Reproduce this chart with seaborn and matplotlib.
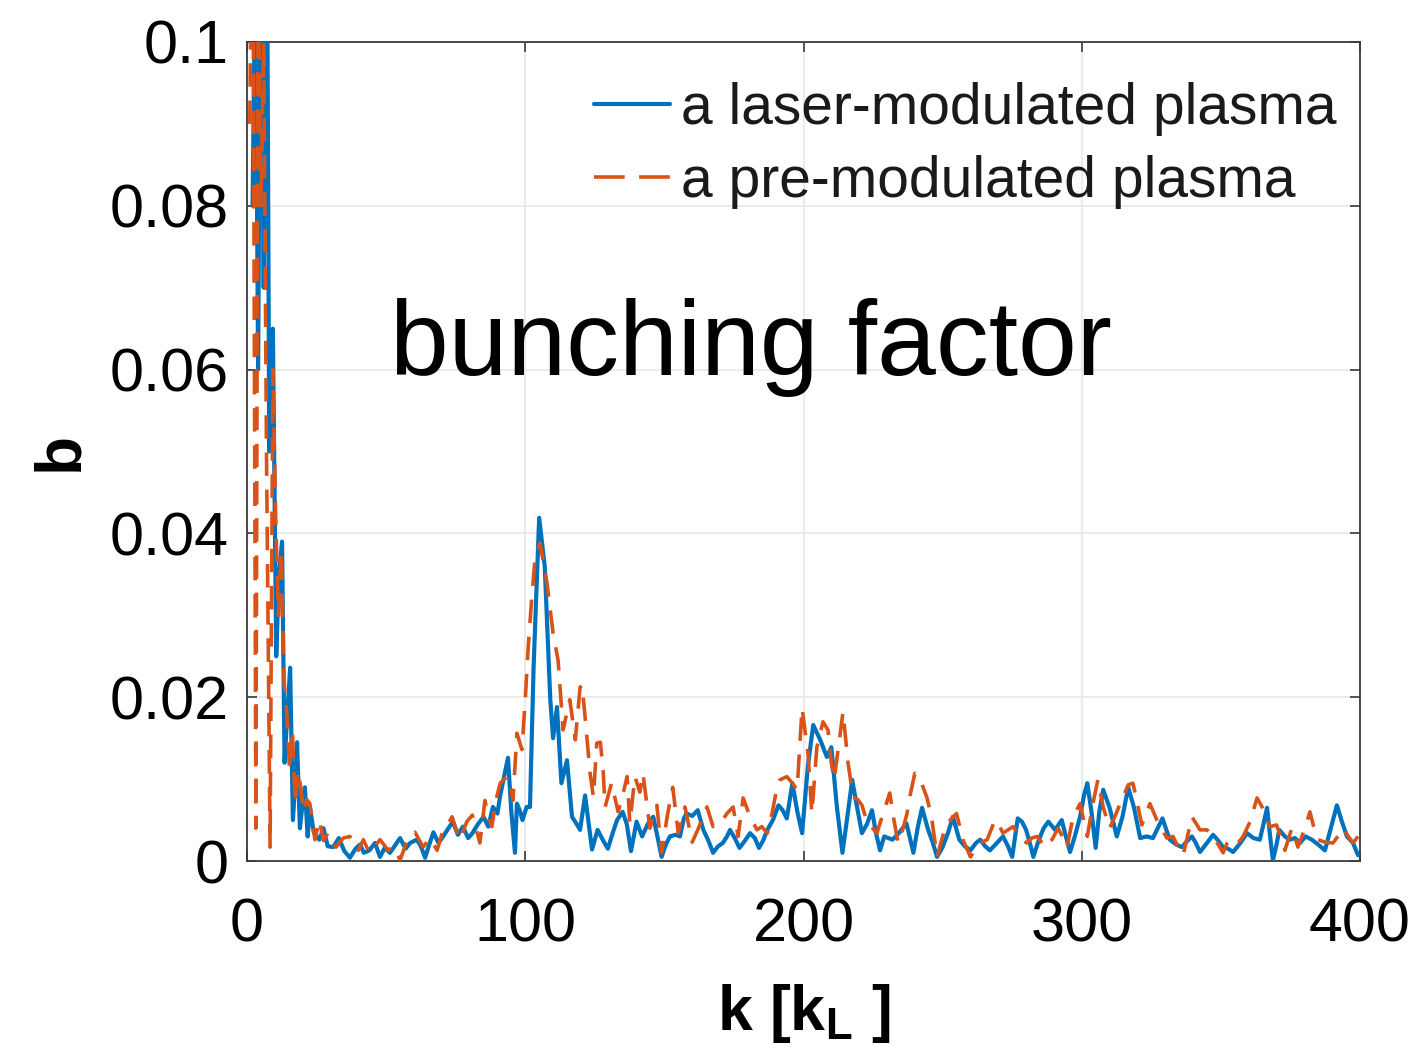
import matplotlib
matplotlib.use("Agg")
import matplotlib.pyplot as plt
import seaborn as sns
import pandas as pd

# ---------------- data ----------------
k_laser = [2, 3, 4, 5, 6, 7, 8, 9.3, 10.5, 11.5, 12.6, 13.5, 14.5, 15.5, 16.5, 17.2, 18, 19, 20, 20.8,
           21.8, 22.6, 24, 26, 27.5, 29, 31, 33, 35, 37, 39, 40.6, 42, 44, 46, 47.8, 49.5, 51.4, 53, 55,
           57, 58.6, 61, 62.5, 64, 65.5, 67, 68.8, 70.5, 72, 74, 75.8, 77.6, 79.5, 81, 83, 85, 86.7, 88.4, 90,
           91, 92.5, 93.8, 95, 96.3, 97, 98, 99, 100.5, 101.7, 103, 105, 107, 109, 110, 111.4, 113, 115, 116.8, 118.5,
           119.7, 121.5, 124, 126, 128, 129.7, 131.5, 133, 135, 136.5, 138, 140, 142, 144, 146, 147.5, 149, 150.5, 152, 154,
           155.6, 157, 158, 160, 162, 164, 165.8, 167.5, 169.3, 171, 172.5, 173.6, 175.3, 177, 179, 180.8, 182.5, 184, 185.5, 187,
           189, 191, 192.5, 194, 196, 197.8, 199.5, 201.6, 203.5, 206, 208.4, 210, 212, 214, 215.8, 217.5, 219.3, 221, 222.8, 224.6,
           226, 227.5, 229, 230.5, 232, 234.5, 237, 239.5, 241, 242.6, 244.8, 246.5, 248, 250, 252, 253.7, 256, 258, 260, 262,
           263.5, 265.3, 267, 269.5, 271.7, 273.5, 275, 277, 278.5, 280, 281.5, 282.6, 284.5, 286.3, 288, 290.4, 292.8, 294.3, 295.8, 297.5,
           299.4, 300.8, 302, 303.5, 305, 306.3, 307.7, 310, 312.6, 314.7, 316.7, 318.8, 321, 323.3, 325.6, 327.3, 329, 330.4, 331.7, 334,
           336, 337.8, 339.6, 341, 342.5, 345, 347.2, 349, 350.8, 352.6, 354.4, 357, 359.4, 361.7, 364, 365.3, 366.6, 367.7, 368.7, 370,
           371, 373, 374.8, 376.6, 378.4, 380.5, 382.7, 385, 387.4, 389.5, 391.7, 393.5, 395.3, 397.5, 399.3]
b_laser = [0.08, 0.11, 0.06, 0.12, 0.07, 0.13, 0.05, 0.065, 0.025, 0.035, 0.039, 0.012, 0.018, 0.0236, 0.005, 0.009, 0.0145, 0.004, 0.007, 0.009,
           0.003, 0.0066, 0.0035, 0.0026, 0.004, 0.0018, 0.0017, 0.0028, 0.0012, 0.0004, 0.0015, 0.002, 0.001, 0.0013, 0.0022, 0.0005, 0.0016, 0.001, 0.0018, 0.0028,
           0.0015, 0.0022, 0.0026, 0.0018, 0.0004, 0.002, 0.0035, 0.0022, 0.003, 0.0038, 0.0048, 0.0032, 0.0042, 0.0028, 0.0034, 0.0045, 0.0054, 0.0042, 0.0066, 0.0058,
           0.008, 0.0105, 0.0126, 0.006, 0.001, 0.007, 0.0062, 0.005, 0.0066, 0.0066, 0.0237, 0.0419, 0.036, 0.0197, 0.015, 0.0188, 0.0095, 0.0123, 0.0054, 0.0045,
           0.0038, 0.008, 0.0014, 0.0038, 0.0025, 0.0015, 0.0035, 0.005, 0.006, 0.0045, 0.0012, 0.0048, 0.003, 0.0045, 0.0054, 0.003, 0.0005, 0.002, 0.003, 0.0032,
           0.003, 0.0052, 0.0058, 0.0055, 0.0062, 0.0038, 0.0025, 0.001, 0.0018, 0.0022, 0.003, 0.0038, 0.0028, 0.0016, 0.0025, 0.0034, 0.0028, 0.0016, 0.0025, 0.0038,
           0.005, 0.0068, 0.0062, 0.0052, 0.0095, 0.006, 0.0034, 0.0117, 0.0166, 0.0148, 0.0127, 0.0139, 0.0066, 0.001, 0.0055, 0.0099, 0.0065, 0.0034, 0.0045, 0.0062,
           0.0035, 0.0013, 0.003, 0.0028, 0.0026, 0.0035, 0.0046, 0.001, 0.004, 0.0065, 0.0038, 0.0022, 0.0005, 0.0017, 0.0035, 0.0054, 0.0026, 0.0018, 0.0013, 0.0022,
           0.0026, 0.0018, 0.0013, 0.0022, 0.003, 0.0018, 0.0005, 0.0052, 0.0048, 0.0038, 0.002, 0.0005, 0.0025, 0.004, 0.0048, 0.0038, 0.005, 0.003, 0.0011, 0.003,
           0.0054, 0.008, 0.0095, 0.006, 0.0016, 0.006, 0.0087, 0.0065, 0.003, 0.0055, 0.009, 0.0065, 0.0028, 0.003, 0.0028, 0.004, 0.0052, 0.0038, 0.0026, 0.002,
           0.0017, 0.0024, 0.003, 0.0022, 0.0011, 0.0022, 0.0032, 0.0025, 0.0017, 0.0015, 0.0011, 0.0022, 0.0034, 0.0028, 0.0026, 0.0045, 0.0065, 0.003, 0.0001, 0.002,
           0.0038, 0.003, 0.0026, 0.0028, 0.0022, 0.003, 0.0026, 0.002, 0.0013, 0.004, 0.0068, 0.0048, 0.003, 0.0022, 0.0007]

k_pre = [1, 2, 3.2, 4, 5, 6, 7, 8.3, 9.3, 10.3, 11.3, 12.3, 13.3, 14.3, 15.3, 16.3, 17.3, 18.3, 19.3, 20.3,
         21.5, 22.6, 24.4, 26, 27.5, 29, 30.5, 32, 34.6, 37, 38.5, 40, 41.8, 44, 46, 47.8, 49.2, 50.7, 52.3, 53.9,
         55, 56.5, 58, 60.4, 62, 63.3, 65.8, 68.3, 70.5, 72.2, 73.7, 75, 76.5, 79, 81, 83.7, 85.5, 87, 88, 89.5,
         91, 93.4, 94.5, 95.6, 97, 98.8, 100, 101, 102.3, 103.5, 105.3, 107.8, 110, 111.8, 113.6, 116, 118, 119.7, 120.4, 121.5,
         123.3, 124.5, 125.7, 127, 128, 128.7, 131, 133.4, 135, 136.6, 137.6, 139.4, 141.2, 142.3, 143.5, 144.8, 147.3, 149, 151, 153,
         155, 157.4, 160, 162, 165.3, 167.5, 170, 172.5, 174.7, 176.5, 178.3, 180.8, 183.3, 185, 187, 188.8, 190.5, 191.5, 194, 196,
         197.7, 199.5, 200.5, 201.6, 203, 204.8, 207, 208.8, 210, 211, 213, 214.2, 216, 217.8, 219.5, 221, 223, 224.8, 226.4, 228.6,
         231, 232.5, 234, 235.8, 237.2, 238.3, 240, 242, 244.4, 246, 248, 250, 251.6, 253.3, 255, 257.3, 260, 262, 263.5, 266,
         268.8, 270.5, 271.7, 273.5, 275.3, 278.5, 280.3, 282, 284, 286.8, 289.3, 291.5, 293, 294.7, 296.9, 299.4, 302, 304, 305.8, 307.7,
         310, 312, 313.8, 316.7, 318.4, 320, 321.6, 324.5, 327, 330.6, 332.8, 334.5, 336.4, 338, 339.6, 342.5, 345, 348, 350.8, 352.6,
         354.4, 356.2, 358, 360.5, 363, 364.8, 367.6, 370, 371.5, 373, 375.5, 377.7, 380, 382, 383.5, 385, 387.4, 390.3, 392, 394,
         395.8, 397.5, 399.3]
b_pre = [0.09, 0.13, 0.004, 0.11, 0.08, 0.1, 0.05, 0.0017, 0.06, 0.042, 0.03, 0.038, 0.022, 0.018, 0.011, 0.016, 0.007, 0.011, 0.009, 0.006,
         0.0075, 0.007, 0.0026, 0.005, 0.0025, 0.0034, 0.0022, 0.0017, 0.0028, 0.003, 0.002, 0.0013, 0.0026, 0.001, 0.0018, 0.0026, 0.002, 0.0013, 0.0018, 0.001,
         0.0001, 0.0015, 0.003, 0.0035, 0.0025, 0.0017, 0.0028, 0.0013, 0.0038, 0.0045, 0.0054, 0.004, 0.0026, 0.0048, 0.0056, 0.0022, 0.0074, 0.005, 0.0042, 0.0075,
         0.0095, 0.0103, 0.0095, 0.0074, 0.0156, 0.0136, 0.0197, 0.0258, 0.032, 0.0368, 0.0388, 0.034, 0.0278, 0.0245, 0.016, 0.0197, 0.0148, 0.0212, 0.0215, 0.0176,
         0.0107, 0.0078, 0.0144, 0.0145, 0.011, 0.0066, 0.0095, 0.006, 0.008, 0.0103, 0.0046, 0.0103, 0.0084, 0.0107, 0.0075, 0.004, 0.0068, 0.001, 0.0054, 0.009,
         0.0034, 0.0066, 0.0023, 0.0038, 0.0066, 0.0042, 0.0046, 0.0058, 0.0066, 0.003, 0.0077, 0.0054, 0.0038, 0.0042, 0.0034, 0.006, 0.009, 0.0099, 0.0103, 0.0095,
         0.0087, 0.0187, 0.016, 0.0132, 0.0058, 0.0139, 0.017, 0.016, 0.012, 0.0099, 0.0151, 0.0182, 0.012, 0.0078, 0.0075, 0.0068, 0.0046, 0.004, 0.0034, 0.0058,
         0.0083, 0.005, 0.0022, 0.004, 0.0058, 0.008, 0.0107, 0.0099, 0.0077, 0.0054, 0.0005, 0.003, 0.0046, 0.0052, 0.0058, 0.0026, 0.0005, 0.0015, 0.0022, 0.0026,
         0.005, 0.0042, 0.0034, 0.0038, 0.0042, 0.0026, 0.0022, 0.0028, 0.003, 0.0017, 0.0026, 0.004, 0.003, 0.0017, 0.0054, 0.007, 0.003, 0.007, 0.0099, 0.0066,
         0.004, 0.0055, 0.007, 0.0093, 0.0095, 0.007, 0.0044, 0.007, 0.005, 0.0028, 0.003, 0.0018, 0.0007, 0.003, 0.0054, 0.0038, 0.0038, 0.0026, 0.001, 0.0025,
         0.0026, 0.0022, 0.003, 0.0048, 0.0077, 0.0066, 0.0042, 0.0044, 0.003, 0.0013, 0.004, 0.0017, 0.0038, 0.006, 0.004, 0.0026, 0.0023, 0.0022, 0.003, 0.004,
         0.003, 0.0022, 0.003]

series_labels = ["a laser-modulated plasma", "a pre-modulated plasma"]
x_ticks = [0, 100, 200, 300, 400]
y_ticks = [0, 0.02, 0.04, 0.06, 0.08, 0.1]
y_tick_labels = ["0", "0.02", "0.04", "0.06", "0.08", "0.1"]
annotation = "bunching factor"

# ---------------- style ----------------
sns.set_theme(style="white")
plt.rcParams["font.family"] = ["Liberation Sans", "DejaVu Sans"]
plt.rcParams["mathtext.fontset"] = "custom"
plt.rcParams["mathtext.rm"] = "Liberation Sans"
plt.rcParams["mathtext.it"] = "Liberation Sans"
plt.rcParams["mathtext.bf"] = "Liberation Sans:bold"

BLUE = "#0072BD"
ORANGE = "#D95319"

fig = plt.figure(figsize=(14.14, 10.59), dpi=100)
ax = fig.add_axes([247 / 1414, 1 - 861 / 1059, (1360 - 247) / 1414, (861 - 42) / 1059])

df_l = pd.DataFrame({"k": k_laser, "b": b_laser})
df_p = pd.DataFrame({"k": k_pre, "b": b_pre})

sns.lineplot(data=df_l, x="k", y="b", ax=ax, color=BLUE, lw=3.0,
             sort=False, estimator=None, label=series_labels[0], zorder=3)
sns.lineplot(data=df_p, x="k", y="b", ax=ax, color=ORANGE, lw=2.6,
             sort=False, estimator=None, label=series_labels[1], zorder=4)
ax.lines[1].set_dashes([6.5, 3.8])

ax.set_xlim(0, 400)
ax.set_ylim(0, 0.1)
ax.set_xticks(x_ticks)
ax.set_xticklabels([str(t) for t in x_ticks])
ax.set_yticks(y_ticks)
ax.set_yticklabels(y_tick_labels)

ax.grid(True, color="#e8e8e8", lw=1.2, zorder=0)
ax.set_axisbelow(True)
for s in ax.spines.values():
    s.set_color("#3a3a3a")
    s.set_linewidth(1.3)
    s.set_visible(True)

ax.tick_params(axis="both", which="both", direction="in", length=7, width=1.2,
               color="#3a3a3a", labelsize=44, labelcolor="black",
               top=True, right=True, left=True, bottom=True)
ax.tick_params(axis="x", pad=26)
ax.tick_params(axis="y", pad=13)

ax.set_xlabel(r"k [k$_{\mathbf{L}}$ ]", fontsize=45, fontweight="bold", color="black", labelpad=20)
ax.set_ylabel("b", fontsize=46, fontweight="bold", color="black", labelpad=14)

ax.text((390 - 247) / (1360 - 247), (861 - 375) / (861 - 42), annotation,
        transform=ax.transAxes, fontsize=76, color="black", ha="left", va="baseline")

leg = ax.legend(loc="upper right", bbox_to_anchor=(1.015, 1.0), frameon=False,
                fontsize=41, handlelength=1.33, handletextpad=0.2, labelspacing=0.33,
                borderaxespad=0.5, borderpad=0.2)
for t in leg.get_texts():
    t.set_color("#1a1a1a")
leg.get_lines()[0].set_linewidth(3.0)
leg.get_lines()[1].set_linewidth(2.6)
leg.get_lines()[1].set_dashes([8.5, 4.0])

fig.savefig("out.png", dpi=100)
